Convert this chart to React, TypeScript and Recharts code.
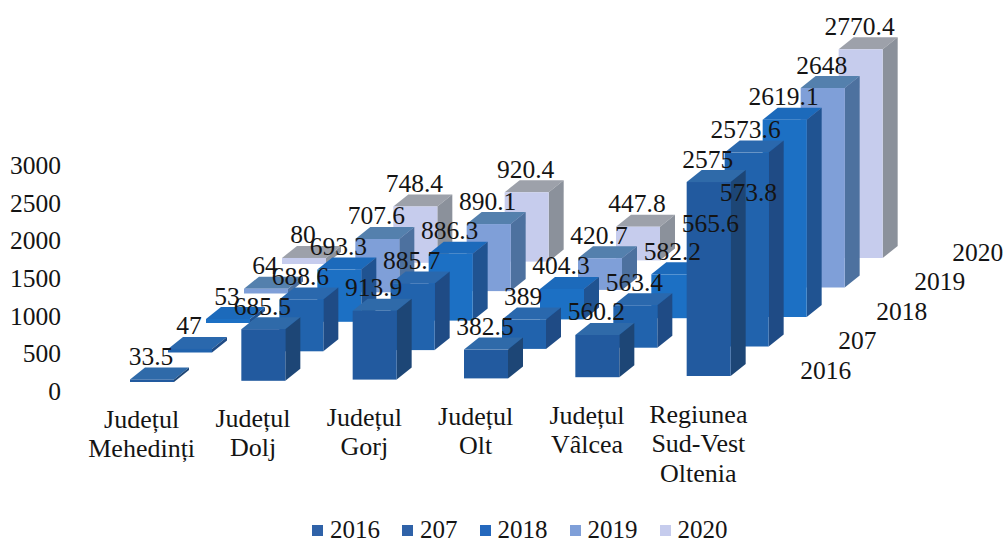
import React from 'react';
import { BarChart, Bar, XAxis, YAxis, Legend } from 'recharts';

const categories = ['Județul Mehedinți', 'Județul Dolj', 'Județul Gorj', 'Județul Olt', 'Județul Vâlcea', 'Regiunea Sud-Vest Oltenia'];
const categoryLines = [['Județul', 'Mehedinți'], ['Județul', 'Dolj'], ['Județul', 'Gorj'], ['Județul', 'Olt'], ['Județul', 'Vâlcea'], ['Regiunea', 'Sud-Vest', 'Oltenia']];
const seriesNames = ['2016', '207', '2018', '2019', '2020'];
const values2016 = [33.5, 685.5, 913.9, 382.5, 560.2, 2575];
const values207 = [47, 688.6, 885.7, 389, 563.4, 2573.6];
const values2018 = [53, 693.3, 886.3, 404.3, 582.2, 2619.1];
const values2019 = [64, 707.6, 890.1, 420.7, 565.6, 2648];
const values2020 = [80, 748.4, 920.4, 447.8, 573.8, 2770.4];
const allValues = [values2016, values207, values2018, values2019, values2020];
const yTicks = [0, 500, 1000, 1500, 2000, 2500, 3000];

const faceColors = [
  { front: '#225a9f', side: '#1d4676', top: '#2f6aa9' },
  { front: '#2163ad', side: '#1f4b85', top: '#2a68ad' },
  { front: '#1c70c4', side: '#205391', top: '#1c6abb' },
  { front: '#7f9fd8', side: '#4d719f', top: '#5480ad' },
  { front: '#c6cced', side: '#8b919b', top: '#9da1aa' },
];
const legendColors = ['#2f62a8', '#2f62a8', '#2468bd', '#7f9fd8', '#c6cced'];

const rows = categories.map((name, i) => {
  const row: Record<string, any> = { name };
  seriesNames.forEach((s, k) => { row[s] = allValues[k][i]; });
  return row;
});

const FONT = '"Liberation Serif", serif';
const FS = 25.5;
const INK = '#141414';
const DEPTH_X = 15;
const DEPTH_Y = 12;
const STEP_X = 38;
const STEP_Y = 29.5;
const BASE_Y = -9;
const TILT = -1.2;

const shiftX = (k: number) => k * STEP_X;
const shiftY = (k: number, i: number) => BASE_Y + TILT * i - k * STEP_Y;

const Box3D = (k: number) => (p: any) => {
  const c = faceColors[k];
  const x = p.x + shiftX(k);
  const y = p.y + shiftY(k, p.index);
  const w = p.width;
  const h = p.height;
  const dx = DEPTH_X;
  const dy = DEPTH_Y;
  return (
    <g>
      <polygon points={`${x},${y} ${x + dx},${y - dy} ${x + w + dx},${y - dy} ${x + w},${y}`} fill={c.top} />
      <polygon points={`${x + w},${y} ${x + w + dx},${y - dy} ${x + w + dx},${y + h - dy} ${x + w},${y + h}`} fill={c.side} />
      <rect x={x} y={y} width={w} height={h} fill={c.front} />
    </g>
  );
};

const LabelMark = (k: number) => (p: any) => {
  const x = p.x + shiftX(k);
  const y = p.y + shiftY(k, p.index);
  const last = p.index === categories.length - 1;
  return (
    <g>
      <text x={x + p.width / 2 - 1} y={y - 23} textAnchor="middle" dominantBaseline="central" fontFamily={FONT} fontSize={FS} fill={INK}>
        {String(allValues[k][p.index])}
      </text>
      {last ? (
        <text x={x + p.width + 69.5} y={y + p.height - 6} dominantBaseline="central" fontFamily={FONT} fontSize={FS} fill={INK}>
          {seriesNames[k]}
        </text>
      ) : null}
    </g>
  );
};

const CategoryTick = (p: any) => {
  const lines = categoryLines[p.index] || [];
  return (
    <text textAnchor="middle" fontFamily={FONT} fontSize={FS + 0.5} fill={INK}>
      {lines.map((l: string, j: number) => (
        <tspan key={j} x={p.x - 10} y={p.y + 20 - p.index * 1 + j * 29.7} dominantBaseline="central">{l}</tspan>
      ))}
    </text>
  );
};

const LegendBox = () => (
  <div style={{ display: 'flex', alignItems: 'center', fontFamily: FONT, fontSize: FS - 0.5, color: INK, lineHeight: '20px' }}>
    {seriesNames.map((s, k) => (
      <div key={s} style={{ display: 'flex', alignItems: 'center', marginRight: 22 }}>
        <span style={{ display: 'inline-block', width: 11, height: 11, background: legendColors[k], marginRight: 7 }} />
        <span>{s}</span>
      </div>
    ))}
  </div>
);

const order = [4, 3, 2, 1, 0];

export default function App() {
  return (
    <div style={{ position: 'absolute', left: 0, top: 0, width: 1006, height: 539, background: '#fff', overflow: 'hidden' }}>
      <BarChart
        width={1006}
        height={539}
        data={rows}
        margin={{ top: 165, right: 242, bottom: 48, left: 0 }}
        barSize={44}
        barGap={-44}
        barCategoryGap={0}
      >
        <XAxis dataKey="name" height={100} axisLine={false} tickLine={false} interval={0} tick={CategoryTick} />
        <YAxis
          width={96}
          domain={[0, 3000]}
          ticks={yTicks}
          axisLine={false}
          tickLine={false}
          tickMargin={29}
          interval={0}
          tick={{ fontFamily: FONT, fontSize: FS, fill: INK }}
        />
        <Legend
          content={LegendBox}
          layout="horizontal"
          verticalAlign="middle"
          align="center"
          wrapperStyle={{ position: 'absolute', left: 312, top: 520, width: 460, height: 20, margin: 0 }}
        />
        {order.map((k) => (
          <Bar key={`b${k}`} dataKey={seriesNames[k]} isAnimationActive={false} shape={Box3D(k)} legendType="none" />
        ))}
        {order.map((k) => (
          <Bar key={`l${k}`} dataKey={seriesNames[k]} isAnimationActive={false} shape={LabelMark(k)} legendType="none" />
        ))}
      </BarChart>
    </div>
  );
}
